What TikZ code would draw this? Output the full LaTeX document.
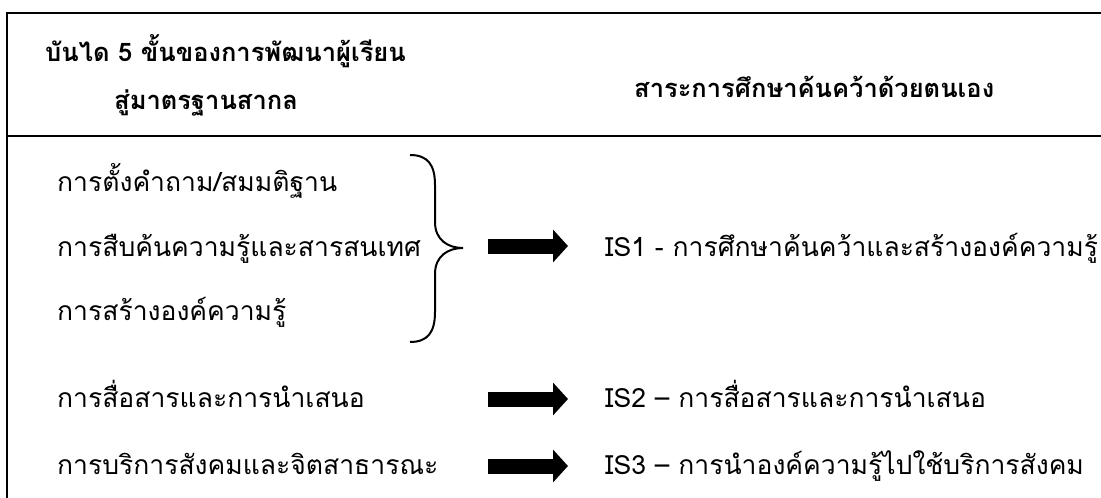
\documentclass[tikz,border=0pt]{standalone}
\usepackage{fontspec}
\setmainfont{Loma}[Script=Thai]
\usetikzlibrary{arrows.meta}
\begin{document}
\begin{tikzpicture}[x=1pt,y=-1pt,
  rule/.style={line width=2pt, line cap=rect},
  hdr/.style={font=\fontsize{25.5}{30}\selectfont\bfseries, inner sep=0pt, anchor=base west},
  item/.style={font=\fontsize{26.5}{30}\selectfont, inner sep=0pt, anchor=base west},
  fat/.style={line width=15pt, -{Triangle[length=15pt 0, width=32pt 0]}},
  bracestyle/.style={line width=2pt}]
\useasboundingbox (0,0) rectangle (1101,498);
% frame
\coordinate (tr) at (1101,13);
\coordinate (tl) at (7,13);
\coordinate (bl) at (7,498);
\coordinate (hl) at (7,136);
\coordinate (hr) at (1101,136);
\draw[rule] (tr) -- (tl) -- (bl);
\draw[rule] (hl) -- (hr);
% header
\node[hdr] (h1a) at (45,61) {บันได 5 ขั้นของการพัฒนาผู้เรียน};
\node[hdr] (h1b) at (114,109) {สู่มาตรฐานสากล};
\node[hdr] (h2) at (634,97) {สาระการศึกษาค้นคว้าด้วยตนเอง};
% left items
\node[item] (l1) at (57,191) {การตั้งคำถาม/สมมติฐาน};
\node[item] (l2) at (57,256) {การสืบค้นความรู้และสารสนเทศ};
\node[item] (l3) at (57,320) {การสร้างองค์ความรู้};
\node[item] (l4) at (57,407) {การสื่อสารและการนำเสนอ};
\node[item] (l5) at (57,474) {การบริการสังคมและจิตสาธารณะ};
% right items
\node[item] (r1) at (605,256) {IS1 - การศึกษาค้นคว้าและสร้างองค์ความรู้};
\node[item] (r2) at (605,407) {IS2 – การสื่อสารและการนำเสนอ};
\node[item] (r3) at (605,474) {IS3 – การนำองค์ความรู้ไปใช้บริการสังคม};
% brace
\draw[bracestyle] (410,155) .. controls (428,155) and (435,165) .. (435,185) -- (435,222)
  .. controls (435,240) and (448,248) .. (463,248)
  .. controls (448,248) and (435,256) .. (435,274) -- (435,312)
  .. controls (435,332) and (428,342) .. (410,342);
% arrows
\coordinate (a1s) at (488,246); \coordinate (a1e) at (568,246);
\coordinate (a2s) at (488,399); \coordinate (a2e) at (568,399);
\coordinate (a3s) at (488,466); \coordinate (a3e) at (568,466);
\draw[fat] (a1s) -- (a1e);
\draw[fat] (a2s) -- (a2e);
\draw[fat] (a3s) -- (a3e);
\end{tikzpicture}
\end{document}
